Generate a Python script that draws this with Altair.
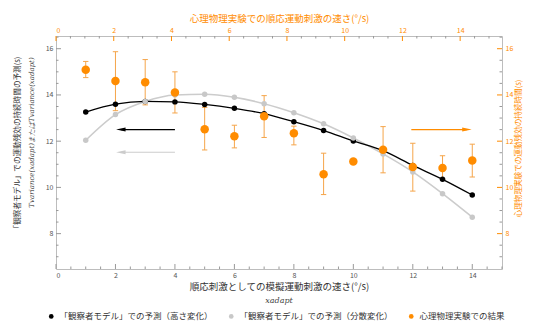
import altair as alt
import pandas as pd

# ---- data ----
x_vals = list(range(1, 15))
height_model = [13.26, 13.60, 13.72, 13.70, 13.59, 13.42, 13.19, 12.84, 12.46, 12.01, 11.59, 10.95, 10.35, 9.67]
variance_model = [12.04, 13.15, 13.72, 14.00, 14.03, 13.90, 13.62, 13.23, 12.75, 12.14, 11.45, 10.67, 9.73, 8.71]
exp_mean = [15.09, 14.60, 14.55, 14.11, 12.52, 12.21, 13.08, 12.34, 10.57, 11.12, 11.63, 10.88, 10.84, 11.16]
exp_upper = [15.45, 15.87, 15.53, 15.00, 13.46, 12.69, 13.97, 12.65, 11.48, 11.20, 12.63, 11.91, 11.37, 11.87]
exp_lower = [14.75, 13.32, 13.57, 13.22, 11.62, 11.71, 12.16, 11.84, 9.69, 11.04, 10.63, 9.84, 10.35, 10.45]

s1 = "「観察者モデル」での予測（高さ変化）"
s2 = "「観察者モデル」での予測（分散変化）"
s3 = "心理物理実験での結果"
series_names = [s1, s2, s3]
series_colors = ["#000000", "#c8c8c8", "#ff8c00"]

arrow_x_start = [4.0, 4.0, 11.95]
arrow_x_end = [2.18, 2.18, 13.82]
arrow_y = [12.5, 11.52, 12.5]
arrow_col = ["#000000", "#cccccc", "#ff8c00"]
arrow_shape = ["M -1 0 L 1 -0.42 L 1 0.42 Z",
               "M -1 0 L 1 -0.42 L 1 0.42 Z",
               "M 1 0 L -1 -0.42 L -1 0.42 Z"]

bottom_ticks_major = [0, 2, 4, 6, 8, 10, 12, 14]
bottom_ticks_minor = [v / 2 for v in range(0, 31) if v % 4 != 0]
left_ticks_major = [8, 10, 12, 14, 16]
left_ticks_minor = [v / 2 for v in range(14, 34) if v % 4 != 0]
top_ticks_major = [0, 2, 4, 6, 8, 10, 12, 14]
top_ticks_minor = [v / 2 for v in range(0, 31) if v % 4 != 0]

left_title_1 = "「観察者モデル」での運動残効の持続時間の予測(s)"
left_title_2 = "Tvariance(xadapt)またはTvariance(xadapt)"
right_title = "心理物理実験での運動残効の持続時間(s)"
bottom_title_2 = "xadapt"

X_DOMAIN = [0, 15]
Y_DOMAIN = [6.47, 16.55]
TOP_DOMAIN = [0, 15.45]

W, H = 446, 233
ORANGE = "#ff8c00"
LORANGE = "#f5a54a"
GRAY_TXT = "#555555"

model_df = pd.DataFrame({
    "x": x_vals * 2,
    "y": height_model + variance_model,
    "series": [s1] * 14 + [s2] * 14,
})
exp_df = pd.DataFrame({
    "x": x_vals, "y": exp_mean, "upper": exp_upper, "lower": exp_lower,
    "series": [s3] * 14,
})
arrow_df = pd.DataFrame({
    "xs": arrow_x_start, "xe": arrow_x_end, "y": arrow_y,
    "col": arrow_col, "shape": arrow_shape,
})

xs = alt.Scale(domain=X_DOMAIN, nice=False, zero=False)
ys = alt.Scale(domain=Y_DOMAIN, nice=False, zero=False)
x_axis = alt.Axis(values=bottom_ticks_major, ticks=False, domain=False, grid=False,
                  labelFontSize=7, labelColor=GRAY_TXT, labelPadding=2,
                  title="順応刺激としての模擬運動刺激の速さ(°/s)", titleFontSize=9.5,
                  titleFontWeight="normal", titleColor="#333333", titlePadding=3)
y_axis = alt.Axis(values=left_ticks_major, ticks=False, domain=False, grid=False,
                  labelFontSize=7, labelColor=GRAY_TXT, labelPadding=3, title=None)


def X(f):
    return alt.X(f, type="quantitative", scale=xs, axis=x_axis)


def Y(f):
    return alt.Y(f, type="quantitative", scale=ys, axis=y_axis)


color_scale = alt.Scale(domain=series_names, range=series_colors)
legend = alt.Legend(title=None, orient="none", direction="horizontal", legendX=-9, legendY=276,
                    labelFontSize=8.5, labelColor="#333333", symbolSize=22, symbolType="circle",
                    columnPadding=14, symbolStrokeWidth=0)
color_enc = alt.Color("series:N", scale=color_scale, legend=legend)

base_m = alt.Chart(model_df)
line1 = base_m.transform_filter(alt.datum.series == s1).mark_line(
    color="#000000", strokeWidth=1.3, interpolate="monotone").encode(x=X("x"), y=Y("y"))
line2 = base_m.transform_filter(alt.datum.series == s2).mark_line(
    color="#cccccc", strokeWidth=1.6, interpolate="monotone").encode(x=X("x"), y=Y("y"))
pts_m = base_m.mark_circle(size=30, opacity=1).encode(x=X("x"), y=Y("y"), color=color_enc)

base_e = alt.Chart(exp_df).transform_calculate(xl="datum.x - 0.09", xr="datum.x + 0.09")
err = base_e.mark_rule(color=LORANGE, strokeWidth=1).encode(x=X("x"), y=Y("lower"), y2="upper")
cap_u = base_e.mark_rule(color=LORANGE, strokeWidth=1).encode(x=X("xl"), x2="xr", y=Y("upper"))
cap_l = base_e.mark_rule(color=LORANGE, strokeWidth=1).encode(x=X("xl"), x2="xr", y=Y("lower"))
pts_e = base_e.mark_circle(size=72, opacity=1).encode(x=X("x"), y=Y("y"), color=color_enc)

arr_line = alt.Chart(arrow_df).mark_rule(strokeWidth=1.2).encode(
    x=X("xs"), x2="xe", y=Y("y"), color=alt.Color("col:N", scale=None))
arr_head = alt.Chart(arrow_df).mark_point(filled=True, opacity=1, size=90).encode(
    x=X("xe"), y=Y("y"), color=alt.Color("col:N", scale=None),
    shape=alt.Shape("shape:N", scale=None))

tick_col = "#999999"
bmaj = alt.Chart(pd.DataFrame({"v": bottom_ticks_major})).mark_rule(color=tick_col).encode(
    x=X("v"), y=alt.value(H), y2=alt.value(H - 5))
bmin = alt.Chart(pd.DataFrame({"v": bottom_ticks_minor})).mark_rule(color=tick_col).encode(
    x=X("v"), y=alt.value(H), y2=alt.value(H - 2.5))
lmaj = alt.Chart(pd.DataFrame({"v": left_ticks_major})).mark_rule(color=tick_col).encode(
    y=Y("v"), x=alt.value(0), x2=alt.value(5))
lmin = alt.Chart(pd.DataFrame({"v": left_ticks_minor})).mark_rule(color=tick_col).encode(
    y=Y("v"), x=alt.value(0), x2=alt.value(2.5))

lt1 = alt.Chart(pd.DataFrame({"t": [left_title_1]})).mark_text(
    angle=270, fontSize=7.6, color="#333333").encode(
    text="t:N", x=alt.value(-38), y=alt.value(H / 2 - 8))
lt2 = alt.Chart(pd.DataFrame({"t": [left_title_2]})).mark_text(
    angle=270, fontSize=7, fontStyle="italic", font="DejaVu Serif", color="#444444").encode(
    text="t:N", x=alt.value(-24), y=alt.value(H / 2 - 20))
rt = alt.Chart(pd.DataFrame({"t": [right_title]})).mark_text(
    angle=270, fontSize=7.6, color=ORANGE).encode(
    text="t:N", x=alt.value(W + 17), y=alt.value(H / 2 - 4))
bt2 = alt.Chart(pd.DataFrame({"t": [bottom_title_2]})).mark_text(
    fontSize=8, fontStyle="italic", font="DejaVu Serif", color="#444444").encode(
    text="t:N", x=alt.value(W / 2), y=alt.value(H + 32))

inner = alt.layer(bmaj, bmin, lmaj, lmin, line2, line1, arr_line, arr_head,
                  err, cap_u, cap_l, pts_m, pts_e, lt1, lt2, rt, bt2)

# ---- top and right axes ----
ts = alt.Scale(domain=TOP_DOMAIN, nice=False, zero=False)
rs = alt.Scale(domain=Y_DOMAIN, nice=False, zero=False)
top_axis = alt.Axis(orient="top", values=top_ticks_major, ticks=False, domain=False, grid=False,
                    labelFontSize=7, labelColor=ORANGE, labelPadding=3,
                    title="心理物理実験での順応運動刺激の速さ(°/s)", titleFontSize=9.5,
                    titleFontWeight="normal", titleColor=ORANGE, titlePadding=3)
right_axis = alt.Axis(orient="right", values=left_ticks_major, ticks=False, domain=False, grid=False,
                      labelFontSize=7, labelColor=ORANGE, labelPadding=3, title=None)


def TX(f):
    return alt.X(f, type="quantitative", scale=ts, axis=top_axis)


def RY(f):
    return alt.Y(f, type="quantitative", scale=rs, axis=right_axis)


dummy = alt.Chart(pd.DataFrame({"a": TOP_DOMAIN, "b": Y_DOMAIN})).mark_point(opacity=0).encode(
    x=TX("a"), y=RY("b"))
tmaj = alt.Chart(pd.DataFrame({"v": top_ticks_major})).mark_rule(color=ORANGE).encode(
    x=TX("v"), y=alt.value(0), y2=alt.value(5))
tmin = alt.Chart(pd.DataFrame({"v": top_ticks_minor})).mark_rule(color=tick_col).encode(
    x=TX("v"), y=alt.value(0), y2=alt.value(2.5))
rmaj = alt.Chart(pd.DataFrame({"v": left_ticks_major})).mark_rule(color=ORANGE).encode(
    y=RY("v"), x=alt.value(W), x2=alt.value(W - 5))
rmin = alt.Chart(pd.DataFrame({"v": left_ticks_minor})).mark_rule(color=tick_col).encode(
    y=RY("v"), x=alt.value(W), x2=alt.value(W - 2.5))

outer = alt.layer(dummy, tmaj, tmin, rmaj, rmin)

chart = alt.layer(inner, outer).resolve_scale(x="independent", y="independent").properties(
    width=W, height=H
).configure(font="Noto Sans CJK JP").configure_view(stroke="#bdbdbd", strokeWidth=1)

chart.save("out.html", embed_options={"renderer": "svg", "actions": False})
